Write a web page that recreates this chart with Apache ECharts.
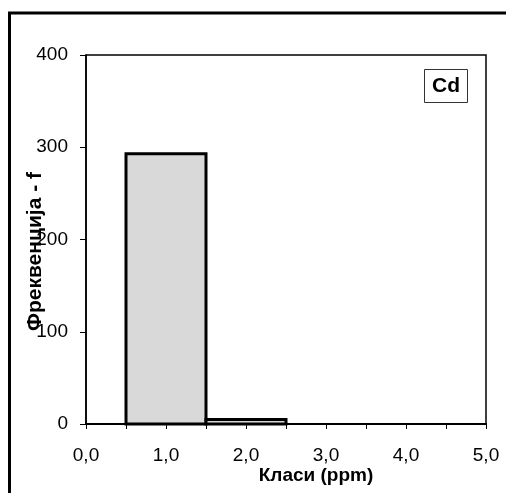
<!DOCTYPE html>
<html>
<head>
<meta charset="utf-8">
<style>
  html, body { margin: 0; padding: 0; background: #fff; }
  #chart { width: 506px; height: 493px; }
</style>
<script src="https://cdn.jsdelivr.net/npm/echarts@6/dist/echarts.min.js"></script>
</head>
<body>
<div id="chart"></div>
<script>
// Histogram classes (ppm): lower and upper edge of each class
const classFrom = [0.5, 1.5];
const classTo = [1.5, 2.5];
// Frequency per class
const frequency = [293, 5];

// Axis tick labels
const yTicks = [0, 100, 200, 300, 400];
const xTickLabels = ['0,0', '1,0', '2,0', '3,0', '4,0', '5,0'];

const element = 'Cd';
const xTitle = 'Класи (ppm)';
const yTitle = 'Фреквенција - f';

const font = 'Liberation Sans, Arial, sans-serif';

const chart = echarts.init(document.getElementById('chart'), null, { renderer: 'canvas' });

const bins = classFrom.map((a, i) => [a, classTo[i], frequency[i]]);

chart.setOption({
  animation: false,
  backgroundColor: '#fff',
  title: {
    text: element,
    left: 424,
    top: 69,
    padding: [6, 8, 6, 8],
    borderColor: '#333',
    borderWidth: 1,
    textStyle: { fontFamily: font, fontSize: 21, fontWeight: 'bold', color: '#000', lineHeight: 22 }
  },
  grid: {
    left: 86, right: 20, top: 55, bottom: 69,
    containLabel: false,
    outerBoundsMode: 'none',
    show: true, borderColor: '#000', borderWidth: 1.5, backgroundColor: '#fff'
  },
  xAxis: {
    type: 'value',
    min: 0, max: 5, interval: 0.5,
    name: xTitle,
    nameLocation: 'middle',
    nameGap: 42,
    nameMoveOverlap: false,
    nameTextStyle: { fontFamily: font, fontSize: 19, fontWeight: 'bold', color: '#000', padding: [0, 0, 0, 60] },
    axisLine: { show: true, onZero: false, lineStyle: { color: '#000', width: 2 } },
    axisTick: { show: true, length: 5, lineStyle: { color: '#000', width: 1 } },
    axisLabel: {
      margin: 22,
      fontFamily: font, fontSize: 19, color: '#000',
      formatter: v => (Math.abs(v - Math.round(v)) < 1e-9 ? xTickLabels[Math.round(v)] : '')
    },
    splitLine: { show: false }
  },
  yAxis: {
    type: 'value',
    min: 0, max: 400, interval: 100,
    name: yTitle,
    nameLocation: 'middle',
    nameGap: 40,
    nameRotate: 90,
    nameMoveOverlap: false,
    nameTextStyle: { fontFamily: font, fontSize: 21, fontWeight: 'bold', color: '#000', padding: [0, 24, 0, 0] },
    axisLine: { show: true, lineStyle: { color: '#000', width: 1.5 } },
    axisTick: { show: true, length: 6, lineStyle: { color: '#000', width: 1 } },
    axisLabel: {
      margin: 18,
      fontFamily: font, fontSize: 19, color: '#000',
      formatter: v => (yTicks.includes(v) ? String(v) : '')
    },
    splitLine: { show: false }
  },
  series: [{
    type: 'custom',
    data: bins,
    encode: { x: [0, 1], y: 2 },
    renderItem: (params, api) => {
      const p0 = api.coord([api.value(0), 0]);
      const p1 = api.coord([api.value(1), api.value(2)]);
      return {
        type: 'rect',
        shape: { x: p0[0], y: p1[1], width: p1[0] - p0[0], height: p0[1] - p1[1] },
        style: { fill: '#d9d9d9', stroke: '#000', lineWidth: 3 }
      };
    }
  }],
  graphic: [{
    type: 'polyline',
    shape: { points: [[9.5, 493], [9.5, 13], [506, 13]] },
    style: { stroke: '#000', lineWidth: 3, fill: null },
    z: 100
  }]
});
</script>
</body>
</html>
